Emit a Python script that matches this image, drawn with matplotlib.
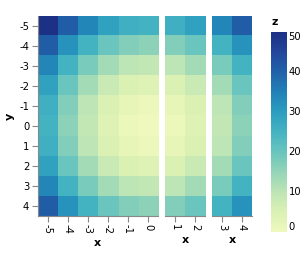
import matplotlib
matplotlib.use("Agg")
import matplotlib.pyplot as plt
import numpy as np
from matplotlib.colors import LinearSegmentedColormap

x_panels = [[-5, -4, -3, -2, -1, 0], [1, 2], [3, 4]]
y_vals = [-5, -4, -3, -2, -1, 0, 1, 2, 3, 4]
x_all = [-5, -4, -3, -2, -1, 0, 1, 2, 3, 4]
z_vals = [
    [50, 41, 34, 29, 26, 25, 26, 29, 34, 41],
    [41, 32, 25, 20, 17, 16, 17, 20, 25, 32],
    [34, 25, 18, 13, 10, 9, 10, 13, 18, 25],
    [29, 20, 13, 8, 5, 4, 5, 8, 13, 20],
    [26, 17, 10, 5, 2, 1, 2, 5, 10, 17],
    [25, 16, 9, 4, 1, 0, 1, 4, 9, 16],
    [26, 17, 10, 5, 2, 1, 2, 5, 10, 17],
    [29, 20, 13, 8, 5, 4, 5, 8, 13, 20],
    [34, 25, 18, 13, 10, 9, 10, 13, 18, 25],
    [41, 32, 25, 20, 17, 16, 17, 20, 25, 32],
]
cbar_ticks = [0, 10, 20, 30, 40, 50]

hexs = "eff9bddbf1b4bde5b594d5b969c5be45b4c22c9ec02182b82163aa23479c1c3185"
cols = ["#" + hexs[i:i + 6] for i in range(0, len(hexs), 6)]
cmap = LinearSegmentedColormap.from_list("ygb", cols)

W, H = 307, 254
fig = plt.figure(figsize=(W / 100, H / 100), dpi=100)
plt.rcParams['font.family'] = ['DejaVu Sans']
fs = 7.2
gray = "#888888"
Z = np.array(z_vals)

panel_px = [(37.5, 158), (165, 205), (212, 252)]
top, bot = 16, 216
for i, (xs, (l, r)) in enumerate(zip(x_panels, panel_px)):
    ax = fig.add_axes([l / W, (H - bot) / H, (r - l) / W, (bot - top) / H])
    idx = [x_all.index(v) for v in xs]
    ax.imshow(Z[:, idx], cmap=cmap, vmin=0, vmax=50, aspect='auto',
              interpolation='nearest', extent=(-0.5, len(xs) - 0.5, len(y_vals) - 0.5, -0.5))
    ax.set_xticks(range(len(xs)))
    ax.set_xticklabels([str(v) for v in xs], rotation=-90, fontsize=fs, ha='center', va='top')
    for s in ['top', 'right']:
        ax.spines[s].set_visible(False)
    ax.spines['bottom'].set_color(gray)
    ax.spines['left'].set_color(gray)
    ax.tick_params(color=gray, length=4, width=0.8, pad=2)
    ax.set_xlabel('x', fontsize=8, fontweight='bold', labelpad=3)
    if i == 0:
        ax.set_yticks(range(len(y_vals)))
        ax.set_yticklabels([str(v) for v in y_vals], fontsize=fs)
        ax.set_ylabel('y', fontsize=8, fontweight='bold', labelpad=3)
    else:
        ax.spines['left'].set_visible(False)
        ax.set_yticks([])

cax = fig.add_axes([271 / W, (H - 232) / H, 16 / W, 200 / H])
grad = np.linspace(0, 50, 256).reshape(-1, 1)
cax.imshow(grad, cmap=cmap, vmin=0, vmax=50, aspect='auto', origin='lower',
           extent=(0, 1, 0, 50))
cax.set_xticks([])
cax.set_yticks([])
for s in cax.spines.values():
    s.set_visible(False)
for t in cbar_ticks:
    va = 'bottom' if t == cbar_ticks[0] else ('top' if t == cbar_ticks[-1] else 'center')
    cax.text(1.1, t, str(t), fontsize=fs, va=va, ha='left',
             transform=cax.get_yaxis_transform() if False else cax.transData)
cax.set_xlim(0, 1)
cax.set_ylim(0, 50)
fig.text(271 / W, (H - 22) / H, 'z', fontsize=8, fontweight='bold', va='center', ha='left')

fig.savefig('out.png', dpi=100)
